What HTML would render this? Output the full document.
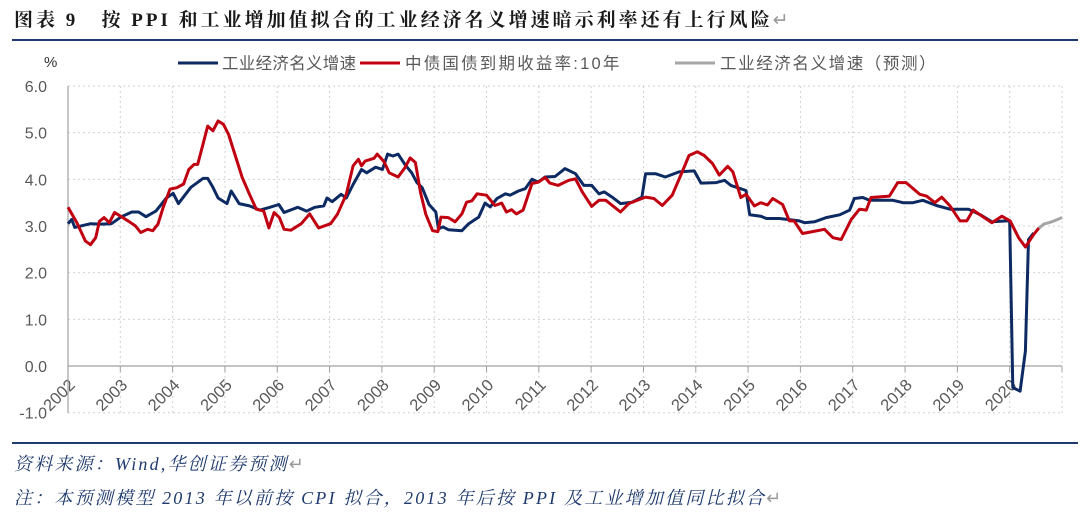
<!DOCTYPE html>
<html><head><meta charset="utf-8"><style>
body{margin:0;width:1080px;height:512px;background:#fff;overflow:hidden;font-family:"Liberation Sans","Noto Sans CJK SC",sans-serif}
.title{position:absolute;left:14px;top:5px;font-family:"Liberation Serif","Noto Serif CJK SC",serif;font-weight:bold;font-size:19px;letter-spacing:3px;color:#1a1a1a;white-space:nowrap}
.foot{position:absolute;left:14px;font-family:"Liberation Serif","Noto Serif CJK SC",serif;font-style:italic;font-size:18px;letter-spacing:2.2px;color:#1f3a6e;white-space:nowrap}
</style></head><body>
<div class="title">图表 9&nbsp;&nbsp;&nbsp;按 PPI 和工业增加值拟合的工业经济名义增速暗示利率还有上行风险<span style="color:#999;font-weight:normal">↵</span></div>
<div style="position:absolute;left:12px;top:39px;width:1066px;height:2px;background:#1f3a6e"></div>
<svg id="chart" width="1080" height="512" style="position:absolute;left:0;top:0"></svg>
<div style="position:absolute;left:12px;top:442px;width:1066px;height:2px;background:#1f3a6e"></div>
<div class="foot" style="top:450px">资料来源：Wind,华创证券预测<span style="color:#999;font-style:normal">↵</span></div>
<div class="foot" style="top:484px">注：本预测模型 2013 年以前按 CPI 拟合，2013 年后按 PPI 及工业增加值同比拟合<span style="color:#999;font-style:normal">↵</span></div>
<script>
const yearTicks=[2002,2003,2004,2005,2006,2007,2008,2009,2010,2011,2012,2013,2014,2015,2016,2017,2018,2019,2020];
const yTicks=[6,5,4,3,2,1,0,-1];
const yTickLabels=["6.0","5.0","4.0","3.0","2.0","1.0","0.0","-1.0"];
const blueT=[2002.0,2002.07,2002.13,2002.43,2002.63,2002.83,2003.02,2003.22,2003.35,2003.49,2003.68,2003.88,2004.01,2004.11,2004.35,2004.58,2004.67,2004.77,2004.87,2005.04,2005.12,2005.27,2005.47,2005.67,2005.86,2006.03,2006.13,2006.39,2006.56,2006.72,2006.89,2006.95,2007.05,2007.22,2007.32,2007.45,2007.61,2007.71,2007.88,2008.01,2008.11,2008.21,2008.31,2008.44,2008.57,2008.67,2008.77,2008.9,2009.03,2009.08,2009.17,2009.27,2009.53,2009.66,2009.85,2009.97,2010.07,2010.2,2010.36,2010.45,2010.61,2010.74,2010.87,2010.99,2011.12,2011.31,2011.5,2011.7,2011.86,2012.01,2012.15,2012.25,2012.4,2012.56,2012.78,2012.97,2013.04,2013.23,2013.42,2013.68,2013.97,2014.1,2014.39,2014.55,2014.67,2014.96,2015.03,2015.24,2015.35,2015.6,2015.98,2016.08,2016.27,2016.49,2016.75,2016.94,2017.03,2017.19,2017.32,2017.77,2017.96,2018.15,2018.34,2018.6,2018.86,2019.02,2019.21,2019.44,2019.66,2019.95,2020.0,2020.06,2020.2,2020.3,2020.36,2020.46];
const blueV=[3.05,3.14,2.97,3.05,3.04,3.05,3.2,3.3,3.3,3.2,3.32,3.6,3.7,3.48,3.83,4.02,4.02,3.83,3.6,3.48,3.75,3.48,3.43,3.34,3.4,3.46,3.29,3.4,3.32,3.4,3.43,3.6,3.52,3.68,3.6,3.89,4.21,4.14,4.26,4.21,4.54,4.5,4.54,4.32,4.14,3.93,3.82,3.46,3.3,2.94,2.98,2.92,2.9,3.05,3.19,3.49,3.41,3.59,3.69,3.66,3.75,3.8,4.0,3.94,4.05,4.06,4.23,4.12,3.87,3.87,3.69,3.73,3.62,3.48,3.51,3.62,4.12,4.12,4.05,4.16,4.18,3.92,3.93,3.98,3.87,3.76,3.24,3.21,3.16,3.16,3.11,3.07,3.09,3.18,3.24,3.34,3.59,3.61,3.55,3.55,3.5,3.5,3.55,3.44,3.36,3.36,3.36,3.24,3.09,3.11,3.11,-0.46,-0.54,0.32,2.71,2.85];
const redT=[2002.0,2002.17,2002.33,2002.43,2002.53,2002.6,2002.69,2002.79,2002.89,2003.02,2003.16,2003.29,2003.39,2003.52,2003.62,2003.72,2003.82,2003.95,2004.08,2004.21,2004.31,2004.41,2004.48,2004.58,2004.67,2004.77,2004.87,2004.97,2005.07,2005.2,2005.33,2005.47,2005.6,2005.74,2005.84,2005.94,2006.04,2006.13,2006.26,2006.46,2006.62,2006.79,2007.02,2007.15,2007.32,2007.45,2007.55,2007.61,2007.68,2007.85,2007.91,2008.04,2008.14,2008.31,2008.44,2008.54,2008.64,2008.74,2008.84,2008.97,2009.07,2009.13,2009.27,2009.4,2009.53,2009.62,2009.72,2009.82,2010.0,2010.16,2010.29,2010.38,2010.48,2010.57,2010.7,2010.87,2010.99,2011.12,2011.21,2011.37,2011.57,2011.7,2011.83,2012.01,2012.15,2012.28,2012.56,2012.72,2013.04,2013.2,2013.36,2013.55,2013.74,2013.87,2014.03,2014.16,2014.32,2014.45,2014.61,2014.71,2014.86,2014.96,2015.12,2015.24,2015.37,2015.47,2015.66,2015.79,2015.88,2016.04,2016.23,2016.46,2016.62,2016.78,2016.97,2017.13,2017.26,2017.35,2017.7,2017.86,2018.02,2018.28,2018.41,2018.57,2018.7,2018.86,2019.05,2019.18,2019.3,2019.66,2019.85,2020.01,2020.17,2020.3,2020.46,2020.56];
const redV=[3.4,3.07,2.68,2.6,2.75,3.1,3.18,3.07,3.29,3.2,3.1,3.0,2.86,2.93,2.9,3.04,3.4,3.79,3.82,3.9,4.21,4.32,4.32,4.75,5.14,5.04,5.25,5.18,4.96,4.5,4.04,3.68,3.36,3.32,2.96,3.29,3.18,2.93,2.91,3.05,3.26,2.96,3.05,3.25,3.68,4.29,4.43,4.29,4.39,4.45,4.54,4.38,4.14,4.05,4.25,4.46,4.36,3.71,3.25,2.9,2.88,3.19,3.18,3.09,3.26,3.51,3.54,3.69,3.66,3.44,3.49,3.3,3.35,3.26,3.34,3.91,3.94,4.04,3.92,3.87,3.98,4.01,3.73,3.42,3.55,3.55,3.3,3.48,3.62,3.59,3.44,3.66,4.16,4.51,4.59,4.51,4.34,4.09,4.28,4.16,3.61,3.68,3.43,3.5,3.45,3.59,3.46,3.11,3.11,2.84,2.88,2.93,2.75,2.71,3.14,3.36,3.34,3.61,3.64,3.93,3.93,3.68,3.64,3.5,3.62,3.43,3.11,3.11,3.34,3.07,3.21,3.11,2.75,2.55,2.82,2.96];
const grayT=[2020.56,2020.65,2020.75,2020.85,2021.0];
const grayV=[2.95,3.04,3.07,3.11,3.18];

const NS="http://www.w3.org/2000/svg";
const svg=document.getElementById('chart');
const X0=68,X1=1062,T0=2002,T1=2021,Y6=86,UNIT=46.67;
const xs=t=>X0+(t-T0)*(X1-X0)/(T1-T0);
const ys=v=>Y6+(6-v)*UNIT;
function mk(tag,attrs){const e=document.createElementNS(NS,tag);for(const k in attrs)e.setAttribute(k,attrs[k]);svg.appendChild(e);return e;}
yTicks.forEach((v,i)=>{
  if(v!==0){const g=mk('line',{x1:X0,x2:X1,y1:ys(v),y2:ys(v),stroke:'#d0d0d0','stroke-width':1,'stroke-dasharray':'2,3'});
  
  }
  const t=mk('text',{x:47,y:ys(v)+6,'text-anchor':'end','font-size':16,fill:'#595959'});
  
  
  t.textContent=yTickLabels[i];
});
yearTicks.concat([2021]).forEach(yr=>{
  if(yr>T0){const g=mk('line',{x1:xs(yr),x2:xs(yr),y1:ys(6),y2:ys(-1),stroke:'#d0d0d0','stroke-width':1,'stroke-dasharray':'2,3'});
  
  }
  const tk=mk('line',{x1:xs(yr),x2:xs(yr),y1:ys(0),y2:ys(0)+6,stroke:'#a0a0a0'});
  
  
});
yearTicks.forEach(yr=>{
  const x=xs(yr)+8,y=ys(0)+20;
  const t=mk('text',{x:x,y:y,'text-anchor':'end','font-size':16.5,fill:'#595959',transform:`rotate(-45 ${x} ${y})`});
  
  
  t.textContent=yr;
});
const ax=mk('line',{x1:X0,x2:X0,y1:ys(6),y2:ys(-1),stroke:'#a0a0a0','stroke-width':1.2});


const zx=mk('line',{x1:X0,x2:X1,y1:ys(0),y2:ys(0),stroke:'#a0a0a0','stroke-width':1.2});


const pct=mk('text',{x:44,y:67,'font-size':15,fill:'#333'});


pct.textContent='%';
function series(T,V,color,name){
  const d=T.map((t,i)=>(i?'L':'M')+xs(t).toFixed(1)+','+ys(V[i]).toFixed(1)).join('');
  const p=mk('path',{d:d,fill:'none',stroke:color,'stroke-width':3,'stroke-linejoin':'round'});
  
  
}
series(blueT,blueV,'#0d2a63','industrial-nominal-growth-line');
series(redT,redV,'#c00010','bond-yield-10y-line');
series(grayT,grayV,'#a6a6a6','forecast-line');
const leg=[[178,222,'#0d2a63','工业经济名义增速','legend-industrial',0.3],[360,405,'#c00010','中债国债到期收益率:10年','legend-bond-yield',2.2],[675,720,'#a6a6a6','工业经济名义增速（预测）','legend-forecast',1.6]];
leg.forEach(l=>{
  const s=mk('line',{x1:l[0],x2:l[0]+40,y1:63,y2:63,stroke:l[2],'stroke-width':3});
  
  
  const t=mk('text',{x:l[1],y:69,'font-size':16.5,fill:'#595959','letter-spacing':l[5]});
  
  
  t.textContent=l[3];
});
</script>
</body></html>
